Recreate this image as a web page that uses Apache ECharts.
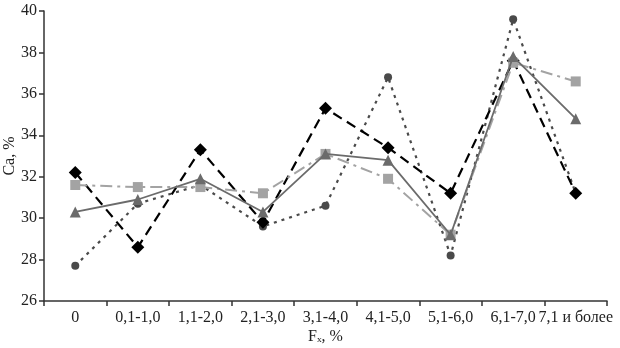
<!DOCTYPE html>
<html><head><meta charset="utf-8">
<script src="https://cdn.jsdelivr.net/npm/echarts@6/dist/echarts.min.js"></script>
<style>html,body{margin:0;padding:0;background:#fff}#c{width:620px;height:348px}</style>
</head><body><div id="c"></div>
<script>
const categories = ['0','0,1-1,0','1,1-2,0','2,1-3,0','3,1-4,0','4,1-5,0','5,1-6,0','6,1-7,0','7,1 и более'];
const seriesDiamond = [32.2, 28.6, 33.3, 29.8, 35.3, 33.4, 31.2, 37.6, 31.2];
const seriesCircle  = [27.7, 30.7, 31.6, 29.6, 30.6, 36.8, 28.2, 39.6, 31.2];
const seriesSquare  = [31.6, 31.5, 31.5, 31.2, 33.1, 31.9, 29.2, 37.5, 36.6];
const seriesTriangle= [30.3, 30.9, 31.9, 30.3, 33.1, 32.8, 29.2, 37.8, 34.8];
const yTicks = [26, 28, 30, 32, 34, 36, 38, 40];

const font = 'Liberation Serif';
const chart = echarts.init(document.getElementById('c'), null, {renderer:'canvas'});
chart.setOption({
  animation: false,
  backgroundColor: '#fff',
  grid: {left: 44, right: 13, top: 11, bottom: 47, containLabel: false, outerBoundsMode: 'none'},
  xAxis: {
    type: 'category', data: categories, boundaryGap: true,
    name: 'Fₓ, %', nameLocation: 'middle', nameGap: 28, nameMoveOverlap: false,
    nameTextStyle: {fontFamily: font, fontSize: 16, color: '#222'},
    axisLine: {lineStyle: {color: '#333', width: 1.5}},
    axisTick: {show: true, length: 5, lineStyle: {color: '#333', width: 1.5}},
    axisLabel: {fontFamily: font, fontSize: 16, color: '#222', margin: 9, interval: 0, hideOverlap: false},
    splitLine: {show: false}
  },
  yAxis: {
    type: 'value', min: yTicks[0], max: yTicks[yTicks.length-1], interval: 2,
    name: 'Ca, %', nameLocation: 'middle', nameGap: 26, nameMoveOverlap: false,
    nameTextStyle: {fontFamily: font, fontSize: 16, color: '#222'},
    axisLine: {show: true, lineStyle: {color: '#333', width: 1.5}},
    axisTick: {show: true, length: 5, lineStyle: {color: '#333', width: 1.5}},
    axisLabel: {fontFamily: font, fontSize: 16, color: '#222', margin: 7},
    splitLine: {show: false}
  },
  series: [
    {name: 'circle', type: 'line', data: seriesCircle, symbol: 'circle', symbolSize: 8,
     itemStyle: {color: '#4a4a4a'}, lineStyle: {color: '#4a4a4a', width: 2.2, type: [3, 5]}, z: 1},
    {name: 'diamond', type: 'line', data: seriesDiamond, symbol: 'diamond', symbolSize: 13,
     itemStyle: {color: '#000'}, lineStyle: {color: '#000', width: 2.2, type: [10, 6]}, z: 2},
    {name: 'square', type: 'line', data: seriesSquare, symbol: 'rect', symbolSize: 10,
     itemStyle: {color: '#a3a3a3'}, lineStyle: {color: '#a3a3a3', width: 2, type: [12, 5, 3, 5]}, z: 3},
    {name: 'triangle', type: 'line', data: seriesTriangle, symbol: 'triangle', symbolSize: 11,
     itemStyle: {color: '#6b6b6b'}, lineStyle: {color: '#6b6b6b', width: 1.8, type: 'solid'}, z: 4}
  ]
});
</script></body></html>
